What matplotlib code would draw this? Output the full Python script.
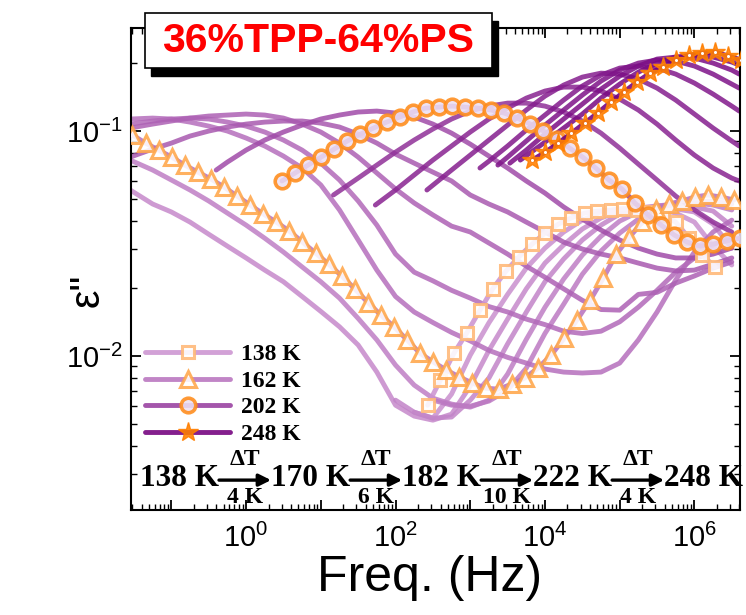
import numpy as np
import matplotlib
matplotlib.use("Agg")
import matplotlib.pyplot as plt
from matplotlib.ticker import LogLocator, FuncFormatter, NullFormatter
from matplotlib.patches import Rectangle

plt.rcParams['font.family'] = ['Liberation Sans', 'DejaVu Sans']
plt.rcParams['mathtext.fontset'] = 'custom'
plt.rcParams['mathtext.rm'] = 'Liberation Sans'
plt.rcParams['mathtext.it'] = 'Liberation Sans:italic'
plt.rcParams['mathtext.bf'] = 'Liberation Sans:bold'

# ---- dielectric loss spectra: log10(f / Hz) and eps'' per temperature ----
lgf138 = [2.43, 2.60, 2.78, 2.95, 3.13, 3.30, 3.48, 3.65, 3.83, 4.00, 4.18, 4.35,
          4.53, 4.70, 4.88, 5.05, 5.23, 5.40, 5.58, 5.75, 5.93, 6.10, 6.28]
eps138 = [0.00605, 0.00782, 0.01028, 0.01261, 0.0160, 0.0199, 0.0239, 0.0276,
          0.0315, 0.0352, 0.0386, 0.0411, 0.0432, 0.0441, 0.0446, 0.0451, 0.0446,
          0.0437, 0.0424, 0.0394, 0.0334, 0.0281, 0.0249]

lgf142 = [2.25, 2.5, 2.75, 3.0, 3.25, 3.5, 3.75, 4.0, 4.25, 4.5, 4.75, 5.0, 5.25,
          5.5, 5.75, 6.0, 6.25, 6.5]
eps142 = [0.00563, 0.00530, 0.00678, 0.0101, 0.01406, 0.0188, 0.0246, 0.0302,
          0.0356, 0.0402, 0.0437, 0.0451, 0.0455, 0.0451, 0.0432, 0.0394, 0.0308,
          0.0254]

lgf146 = [-1.55, -1.25, -1.0, -0.75, -0.5, -0.25, 0.0, 0.25, 0.5, 0.75, 1.0, 1.25,
          1.5, 1.75, 2.0, 2.25, 2.5, 2.75, 3.0, 3.25, 3.5, 3.75, 4.0, 4.25, 4.5,
          4.75, 5.0, 5.25, 5.5, 5.75, 6.0, 6.25, 6.5]
eps146 = [0.0547, 0.0474, 0.0437, 0.0394, 0.0348, 0.0308, 0.0273, 0.0241, 0.0214,
          0.0184, 0.0158, 0.0135, 0.0112, 0.00849, 0.00605, 0.00541, 0.00519,
          0.00552, 0.00735, 0.0106, 0.0146, 0.0199, 0.0259, 0.0312, 0.0367, 0.0411,
          0.0441, 0.0455, 0.0460, 0.0451, 0.0437, 0.0386, 0.0302]

lgf150 = [2.0, 2.25, 2.5, 2.75, 3.0, 3.25, 3.5, 3.75, 4.0, 4.25, 4.5, 4.75, 5.0,
          5.25, 5.5, 5.75, 6.0, 6.25, 6.5]
eps150 = [0.00637, 0.00563, 0.00530, 0.00536, 0.00637, 0.00799, 0.01133, 0.01568,
          0.0214, 0.0270, 0.0328, 0.0382, 0.0428, 0.0455, 0.0465, 0.0469, 0.0460,
          0.0441, 0.0378]

lgf154 = [-1.55, -1.25, -1.0, -0.75, -0.5, -0.25, 0.0, 0.25, 0.5, 0.75, 1.0, 1.25,
          1.5, 1.75, 2.0, 2.25, 2.5, 2.75, 3.0, 3.25, 3.5, 3.75, 4.0, 4.25, 4.5,
          4.75, 5.0, 5.25, 5.5, 5.75, 6.0, 6.25, 6.5]
eps154 = [0.0743, 0.0671, 0.0606, 0.0547, 0.0489, 0.0432, 0.0382, 0.0334, 0.0290,
          0.0249, 0.0214, 0.0181, 0.0147, 0.0118, 0.00912, 0.00743, 0.00650,
          0.00612, 0.00593, 0.00637, 0.00832, 0.01186, 0.01648, 0.0220, 0.0281,
          0.0341, 0.0398, 0.0437, 0.0465, 0.0474, 0.0479, 0.0469, 0.0446]

lgf158 = [2.5, 2.75, 3.0, 3.25, 3.5, 3.75, 4.0, 4.25, 4.5, 4.75, 5.0, 5.25, 5.5,
          5.75, 6.0, 6.25, 6.5]
eps158 = [0.00637, 0.00605, 0.00599, 0.00631, 0.00706, 0.00884, 0.01261, 0.0170,
          0.0231, 0.0293, 0.0352, 0.0406, 0.0451, 0.0474, 0.0484, 0.0489, 0.0474]

lgf162 = [-1.52, -1.345, -1.17, -0.995, -0.82, -0.645, -0.47, -0.295, -0.12, 0.055,
          0.23, 0.405, 0.58, 0.755, 0.93, 1.105, 1.28, 1.455, 1.63, 1.805, 1.98,
          2.155, 2.33, 2.505, 2.68, 2.855, 3.03, 3.205, 3.38, 3.555, 3.73, 3.905,
          4.08, 4.255, 4.43, 4.605, 4.78, 4.955, 5.13, 5.305, 5.48, 5.655, 5.83,
          6.005, 6.18, 6.355, 6.53]
eps162 = [0.0960, 0.0884, 0.0823, 0.0766, 0.0706, 0.0657, 0.0612, 0.0564, 0.0514,
          0.0469, 0.0428, 0.0394, 0.0359, 0.0321, 0.0287, 0.0256, 0.0227, 0.0199,
          0.0173, 0.0152, 0.0135, 0.0118, 0.01028, 0.00941, 0.00867, 0.00807,
          0.00758, 0.00720, 0.00713, 0.00751, 0.00799, 0.00884, 0.01007, 0.01198,
          0.0145, 0.0177, 0.0222, 0.0284, 0.0338, 0.0394, 0.0451, 0.0474, 0.0489,
          0.0509, 0.0520, 0.0509, 0.0494]

lgf166 = [-1.55, -1.25, -1.0, -0.75, -0.5, -0.25, 0.0, 0.25, 0.5, 0.75, 1.0, 1.25,
          1.5, 1.75, 2.0, 2.25, 2.5, 2.75, 3.0, 3.25, 3.5, 3.75, 4.0, 4.25, 4.5,
          4.75, 5.0, 5.25, 5.5, 5.75, 6.0, 6.25, 6.5]
eps166 = [0.1131, 0.1142, 0.1131, 0.1096, 0.1052, 0.1000, 0.0931, 0.0858, 0.0774,
          0.0685, 0.0576, 0.0446, 0.0328, 0.0241, 0.0184, 0.0157, 0.0141, 0.01274,
          0.01168, 0.0106, 0.00987, 0.00931, 0.00876, 0.00849, 0.00841, 0.00849,
          0.00931, 0.0118, 0.0157, 0.0218, 0.0290, 0.0356, 0.0402]

lgf170 = [-1.55, -1.25, -1.0, -0.75, -0.5, -0.25, 0.0, 0.25, 0.5, 0.75, 1.0, 1.25,
          1.5, 1.75, 2.0, 2.25, 2.5, 2.75, 3.0, 3.25, 3.5, 3.75, 4.0, 4.25, 4.5,
          4.75, 5.0, 5.25, 5.5, 5.75, 6.0, 6.25, 6.5]
eps170 = [0.1074, 0.1108, 0.1131, 0.1142, 0.1131, 0.1096, 0.1052, 0.0990, 0.0912,
          0.0823, 0.0720, 0.0606, 0.0489, 0.0382, 0.0284, 0.0236, 0.0216, 0.0196,
          0.0181, 0.0166, 0.0157, 0.0146, 0.0138, 0.0129, 0.0126, 0.0129, 0.0142,
          0.0165, 0.0196, 0.0236, 0.0273, 0.0312, 0.0341]

lgf176 = [-1.55, -1.25, -1.0, -0.75, -0.5, -0.25, 0.0, 0.25, 0.5, 0.75, 1.0, 1.25,
          1.5, 1.75, 2.0, 2.25, 2.5, 2.75, 3.0, 3.25, 3.5, 3.75, 4.0, 4.25, 4.5,
          4.75, 5.0, 5.25, 5.5, 5.75, 6.0, 6.25, 6.5]
eps176 = [0.1031, 0.1074, 0.1108, 0.1142, 0.1166, 0.1178, 0.1190, 0.1178, 0.1142,
          0.1074, 0.0990, 0.0884, 0.0766, 0.0651, 0.0553, 0.0479, 0.0424, 0.0378,
          0.0356, 0.0318, 0.0284, 0.0251, 0.0224, 0.0199, 0.0177, 0.0161, 0.0160,
          0.0188, 0.0192, 0.0211, 0.0227, 0.0246, 0.0262]

lgf182 = [-1.55, -1.25, -1.0, -0.75, -0.5, -0.25, 0.0, 0.25, 0.5, 0.75, 1.0, 1.25,
          1.5, 1.75, 2.0, 2.25, 2.5, 2.75, 3.0, 3.25, 3.5, 3.75, 4.0, 4.25, 4.5,
          4.75, 5.0, 5.25, 5.5, 5.75, 6.0, 6.25, 6.5]
eps182 = [0.0766, 0.0832, 0.0884, 0.0950, 0.1000, 0.1042, 0.1074, 0.1096, 0.1108,
          0.1108, 0.1085, 0.1042, 0.0969, 0.0884, 0.0790, 0.0720, 0.0657, 0.0600,
          0.0520, 0.0474, 0.0437, 0.0394, 0.0356, 0.0321, 0.0299, 0.0284, 0.0273,
          0.0259, 0.0246, 0.0239, 0.0241, 0.0256, 0.0273]

lgf192 = [-0.4, -0.25, 0.0, 0.25, 0.5, 0.75, 1.0, 1.25, 1.5, 1.75, 2.0, 2.25, 2.5,
          2.75, 3.0, 3.25, 3.5, 3.75, 4.0, 4.25, 4.5, 4.75, 5.0, 5.25, 5.5, 5.75,
          6.0, 6.25, 6.5]
eps192 = [0.0671, 0.0728, 0.0823, 0.0912, 0.0990, 0.1063, 0.1131, 0.1178, 0.1215,
          0.1227, 0.1202, 0.1154, 0.1074, 0.0979, 0.0875, 0.0774, 0.0685, 0.0600,
          0.0530, 0.0460, 0.0406, 0.0363, 0.0328, 0.0302, 0.0284, 0.0273, 0.0273,
          0.0284, 0.0302]

lgf202 = [0.48, 0.655, 0.83, 1.005, 1.18, 1.355, 1.53, 1.705, 1.88, 2.055, 2.23,
          2.405, 2.58, 2.755, 2.93, 3.105, 3.28, 3.455, 3.63, 3.805, 3.98, 4.155,
          4.33, 4.505, 4.68, 4.855, 5.03, 5.205, 5.38, 5.555, 5.73, 5.905, 6.08,
          6.255, 6.43, 6.605]
eps202 = [0.0600, 0.0651, 0.0706, 0.0766, 0.0832, 0.0903, 0.0969, 0.1031, 0.1096,
          0.1154, 0.1215, 0.1265, 0.1278, 0.1291, 0.1278, 0.1265, 0.1240, 0.1202,
          0.1142, 0.1074, 0.1000, 0.0921, 0.0840, 0.0766, 0.0685, 0.0606, 0.0553,
          0.0479, 0.0424, 0.0382, 0.0345, 0.0321, 0.0308, 0.0315, 0.0325, 0.0334]

lgf212 = [1.17, 1.5, 1.75, 2.0, 2.25, 2.5, 2.75, 3.0, 3.25, 3.5, 3.75, 4.0, 4.25,
          4.5, 4.75, 5.0, 5.25, 5.5, 5.75, 6.0, 6.25, 6.5]
eps212 = [0.0520, 0.0618, 0.0706, 0.0806, 0.0912, 0.1021, 0.1131, 0.1227, 0.1291,
          0.1331, 0.1331, 0.1291, 0.1215, 0.1108, 0.0979, 0.0840, 0.0713, 0.0606,
          0.0514, 0.0446, 0.0394, 0.0356]

lgf222 = [1.73, 2.0, 2.25, 2.5, 2.75, 3.0, 3.25, 3.5, 3.75, 4.0, 4.25, 4.5, 4.75,
          5.0, 5.25, 5.5, 5.75, 6.0, 6.25, 6.5, 6.6]
eps222 = [0.0469, 0.0547, 0.0638, 0.0743, 0.0858, 0.0990, 0.1131, 0.1265, 0.1401,
          0.1506, 0.1568, 0.1568, 0.1506, 0.1387, 0.1240, 0.1074, 0.0912, 0.0782,
          0.0685, 0.0618, 0.0600]

lgf226 = [2.42, 2.75, 3.0, 3.25, 3.5, 3.75, 4.0, 4.25, 4.5, 4.75, 5.0, 5.25, 5.5,
          5.75, 6.0, 6.25, 6.5, 6.6]
eps226 = [0.0547, 0.0671, 0.0782, 0.0912, 0.1063, 0.1240, 0.1430, 0.1601, 0.1737,
          0.1809, 0.1791, 0.1702, 0.1552, 0.1373, 0.1190, 0.1031, 0.0903, 0.0858]

lgf230 = [3.13, 3.25, 3.5, 3.75, 4.0, 4.25, 4.5, 4.75, 5.0, 5.25, 5.5, 5.75, 6.0,
          6.25, 6.5, 6.6]
eps230 = [0.0685, 0.0735, 0.0858, 0.1010, 0.1178, 0.1373, 0.1585, 0.1773, 0.1905,
          0.1945, 0.1905, 0.1791, 0.1634, 0.1460, 0.1291, 0.1227]

lgf234 = [3.37, 3.5, 3.75, 4.0, 4.25, 4.5, 4.75, 5.0, 5.25, 5.5, 5.75, 6.0, 6.25,
          6.5, 6.6]
eps234 = [0.0706, 0.0766, 0.0903, 0.1063, 0.1240, 0.1445, 0.1668, 0.1866, 0.2005,
          0.2068, 0.2047, 0.1945, 0.1791, 0.1617, 0.1552]

lgf238 = [3.53, 3.75, 4.0, 4.25, 4.5, 4.75, 5.0, 5.25, 5.5, 5.75, 6.0, 6.25, 6.5,
          6.6]
eps238 = [0.0720, 0.0823, 0.0969, 0.1131, 0.1318, 0.1537, 0.1755, 0.1945, 0.2089,
          0.2132, 0.2111, 0.2005, 0.1866, 0.1791]

lgf242 = [3.67, 4.0, 4.25, 4.5, 4.75, 5.0, 5.25, 5.5, 5.75, 6.0, 6.25, 6.5, 6.6]
eps242 = [0.0743, 0.0893, 0.1031, 0.1190, 0.1401, 0.1617, 0.1828, 0.2005, 0.2132,
          0.2177, 0.2132, 0.2026, 0.1965]

lgf248 = [3.83, 4.005, 4.18, 4.355, 4.53, 4.705, 4.88, 5.055, 5.23, 5.405, 5.58,
          5.755, 5.93, 6.105, 6.28, 6.455, 6.63]
eps248 = [0.0743, 0.0806, 0.0884, 0.0979, 0.1085, 0.1202, 0.1345, 0.1490, 0.1651,
          0.1809, 0.1925, 0.2068, 0.2177, 0.2222, 0.2245, 0.2154, 0.2068]

temps = [138, 142, 146, 150, 154, 158, 162, 166, 170, 176, 182, 192, 202, 212,
         222, 226, 230, 234, 238, 242, 248]
legend_labels = ['138 K', '162 K', '202 K', '248 K']
step_temps = ['138 K', '170 K', '182 K', '222 K', '248 K']
step_sizes = ['4 K', '6 K', '10 K', '4 K']
title_text = '36%TPP-64%PS'

spectra = {
    138: (lgf138, eps138), 142: (lgf142, eps142), 146: (lgf146, eps146),
    150: (lgf150, eps150), 154: (lgf154, eps154), 158: (lgf158, eps158),
    162: (lgf162, eps162), 166: (lgf166, eps166), 170: (lgf170, eps170),
    176: (lgf176, eps176), 182: (lgf182, eps182), 192: (lgf192, eps192),
    202: (lgf202, eps202), 212: (lgf212, eps212), 222: (lgf222, eps222),
    226: (lgf226, eps226), 230: (lgf230, eps230), 234: (lgf234, eps234),
    238: (lgf238, eps238), 242: (lgf242, eps242), 248: (lgf248, eps248),
}

LIGHT = np.array([0.80, 0.58, 0.82])
DARK = np.array([0.45, 0.00, 0.49])


def shade(T):
    s = (T - 138) / 110.0
    return tuple(LIGHT + (DARK - LIGHT) * s)


marker_style = {
    138: dict(marker='s', ms=9, mec='#ffb877', mfc=(1, 1, 1, 0.55), mew=2.2),
    162: dict(marker='^', ms=11, mec='#ffa64a', mfc=(1, 1, 1, 0.55), mew=2.2),
    202: dict(marker='o', ms=10.5, mec='#ff8c1a', mfc=(0.93, 0.88, 0.95, 0.85), mew=2.6),
    248: dict(marker='*', ms=15, mec='#ff7f00', mfc='#ff7f00', mew=1.0),
}

fig = plt.figure(figsize=(7.46, 6.15), dpi=100)
ax = fig.add_axes([131 / 746, 1 - 510 / 615, 609 / 746, 482 / 615])
ax.set_xscale('log')
ax.set_yscale('log')

handles = {}
for T in temps:
    lgf, eps = spectra[T]
    f = 10.0 ** np.asarray(lgf)
    if T in marker_style:
        z = 5 if T == 248 else 4
        ln, = ax.plot(f, eps, color=shade(T), lw=3.5, alpha=0.88, zorder=z,
                      solid_capstyle='round', **marker_style[T])
        handles[T] = ln
        if T == 248:
            # small white centre of each star
            ax.plot(f, eps, ls='none', marker='o', ms=2.2, mfc='white', mec='none',
                    zorder=z + 0.1)
    else:
        ax.plot(f, eps, color=shade(T), lw=3.5, alpha=0.85, zorder=2,
                solid_capstyle='round')

ax.set_xlim(10 ** -1.54, 10 ** 6.61)
ax.set_ylim(10 ** -2.684, 10 ** -0.542)

# axis ticks
ax.xaxis.set_major_locator(LogLocator(base=10, numticks=30))
ax.xaxis.set_minor_locator(LogLocator(base=10, subs=np.arange(2, 10), numticks=100))
ax.yaxis.set_major_locator(LogLocator(base=10, numticks=30))
ax.yaxis.set_minor_locator(LogLocator(base=10, subs=np.arange(2, 10), numticks=100))


def xfmt(v, pos):
    e = int(round(np.log10(v)))
    return r'$10^{%d}$' % e if e % 2 == 0 else ''


def yfmt(v, pos):
    e = int(round(np.log10(v)))
    return r'$10^{%d}$' % e


ax.xaxis.set_major_formatter(FuncFormatter(xfmt))
ax.yaxis.set_major_formatter(FuncFormatter(yfmt))
ax.xaxis.set_minor_formatter(NullFormatter())
ax.yaxis.set_minor_formatter(NullFormatter())
ax.tick_params(which='both', direction='in', top=True, right=True, labelsize=21)
ax.tick_params(which='major', length=7, width=1.3)
ax.tick_params(which='minor', length=4, width=1.0)
ax.tick_params(axis='x', pad=10)
ax.tick_params(axis='y', pad=6)
for sp in ax.spines.values():
    sp.set_linewidth(1.5)

# axis titles
fig.text(430 / 746, 1 - 578 / 615, 'Freq. (Hz)', ha='center', va='center', fontsize=36)
fig.text(88 / 746, 1 - 290 / 615, 'ε"', ha='center', va='center', fontsize=30, rotation=90)

# legend
leg = ax.legend([handles[T] for T in (138, 162, 202, 248)], legend_labels,
                loc='upper left', bbox_to_anchor=(0.008, 0.365), frameon=False,
                handlelength=3.6, handletextpad=0.45, labelspacing=0.22,
                borderaxespad=0.0, numpoints=1,
                prop=dict(family='Liberation Serif', weight='bold', size=17))

# temperature-step annotation along the bottom
serif = dict(family='Liberation Serif', weight='bold')
fig.canvas.draw()
renderer = fig.canvas.get_renderer()
axw = ax.get_window_extent().width
x = 9 / axw
ymain, yup, ydn = 0.066, 0.104, 0.026
arrow_len = 52 / axw
for i, lab in enumerate(step_temps):
    t = ax.text(x, ymain, lab, transform=ax.transAxes, ha='left', va='center',
                fontsize=22.5, zorder=6, **serif)
    x += t.get_window_extent(renderer).width / axw
    if i < len(step_sizes):
        ax.annotate('', xy=(x + arrow_len, ymain - 0.004), xytext=(x, ymain - 0.004),
                    xycoords='axes fraction', textcoords='axes fraction',
                    arrowprops=dict(arrowstyle='-|>', lw=2.4, color='black',
                                    mutation_scale=18, shrinkA=0, shrinkB=0), zorder=6)
        xc = x + arrow_len / 2
        ax.text(xc, yup, 'ΔT', transform=ax.transAxes, ha='center', va='center',
                fontsize=17, zorder=6, **serif)
        ax.text(xc, ydn, step_sizes[i], transform=ax.transAxes, ha='center',
                va='center', fontsize=17, zorder=6, **serif)
        x += arrow_len

# boxed title with drop shadow
bx, by, bw, bh = 145 / 746, 1 - 68 / 615, 347 / 746, 55 / 615
fig.patches.append(Rectangle((bx + 6 / 746, by - 8 / 615), bw, bh, transform=fig.transFigure,
                             facecolor='black', edgecolor='black', zorder=10))
fig.patches.append(Rectangle((bx, by), bw, bh, transform=fig.transFigure,
                             facecolor='white', edgecolor='black', lw=1.2, zorder=11))
fig.text(bx + bw / 2, by + bh / 2, title_text, ha='center', va='center',
         color='#ff0000', fontsize=29.5, fontweight='bold', zorder=12)

fig.savefig('out.png', dpi=100)
